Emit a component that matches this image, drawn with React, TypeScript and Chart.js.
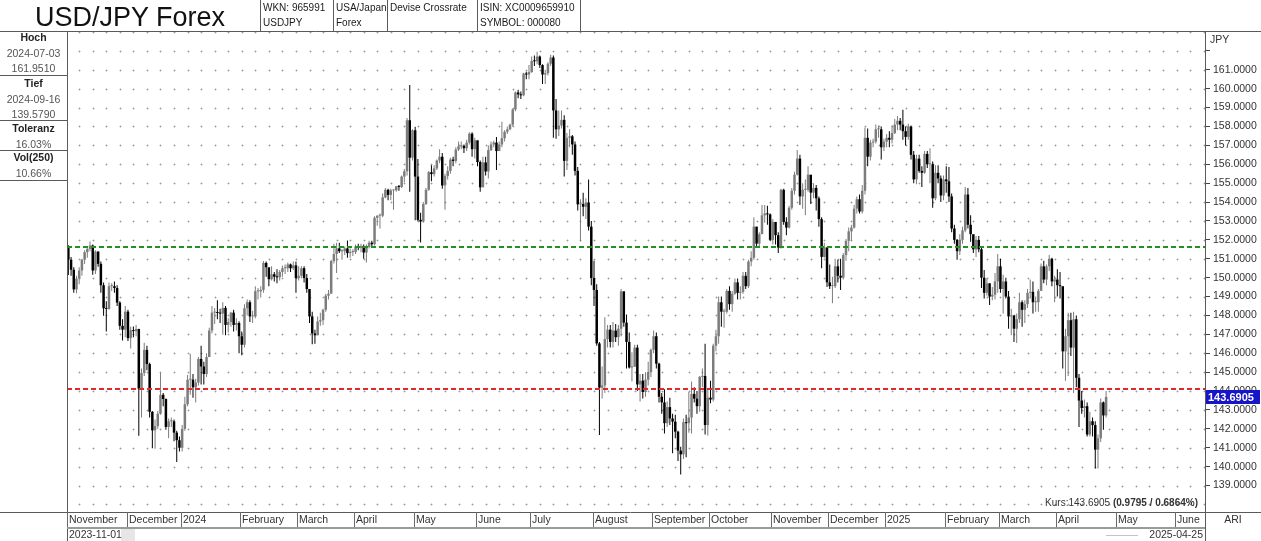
import React, { useEffect, useRef } from "react";
import { Chart, registerables } from "chart.js";

Chart.register(...registerables);

// ---------------- data ----------------
const TITLE = "USD/JPY Forex";
const START_DATE = "2023-11-01";
const SLOT_COUNT = 420; // trading-day slots on the time axis (data + empty future space)
const HOLIDAYS = ["12-25", "01-01"];
const FIRST_OPEN = 151.68;

// daily closes, Nov 2023 .. Apr 2025
const closes = [
  // Nov 2023
  150.95,150.42,149.38,149.95,150.38,150.95,151.35,151.52,151.70,150.38,151.38,150.73,149.60,148.38,148.35,149.55,149.55,149.45,148.68,147.45,147.25,148.20,
  // Dec 2023
  146.80,147.22,147.17,147.28,144.13,144.95,146.18,145.43,142.90,141.92,142.15,142.80,143.80,143.58,142.10,142.40,142.40,141.80,141.40,141.00,
  // Jan 2024
  142.00,143.30,144.60,144.60,144.20,144.45,145.70,145.30,144.90,145.80,147.20,148.15,148.15,148.13,148.10,148.40,147.50,147.65,148.15,147.50,147.60,146.90,
  // Feb 2024
  146.45,148.38,148.70,147.95,147.95,149.28,149.28,149.35,150.78,150.55,149.92,150.18,150.05,150.02,150.30,150.50,150.50,150.70,150.50,150.65,149.98,
  // Mar 2024
  150.10,150.50,149.98,149.40,147.95,147.05,146.95,147.68,147.75,148.30,149.05,149.15,150.88,151.25,151.55,151.40,151.40,151.55,151.30,151.35,151.35,
  // Apr 2024
  151.65,151.57,151.68,151.33,151.62,151.85,151.77,153.17,153.28,153.28,154.25,154.65,154.38,154.62,154.63,154.83,154.80,155.35,155.63,158.33,156.35,157.80,
  // May 2024
  155.35,153.06,152.97,153.90,154.65,155.58,155.48,155.78,156.20,156.40,154.88,155.38,155.65,156.25,156.18,156.78,156.95,156.98,156.85,157.15,157.62,156.80,157.27,
  // Jun 2024
  156.12,154.78,156.10,155.62,156.75,157.05,157.15,156.70,157.05,157.38,157.72,157.85,158.10,158.90,159.80,159.70,159.65,160.80,160.75,160.88,
  // Jul 2024
  161.47,161.45,161.70,161.25,160.75,160.82,161.32,161.65,158.85,157.85,158.05,158.35,156.18,157.40,157.48,157.05,155.65,153.88,153.90,153.75,153.98,152.70,149.98,
  // Aug 2024
  149.35,146.52,144.18,144.30,146.75,147.25,146.60,147.20,146.85,147.30,149.28,147.62,146.60,145.25,145.28,146.30,144.35,144.55,143.95,144.60,145.00,146.18,
  // Sep 2024
  146.90,145.45,143.70,143.40,142.30,143.15,142.55,142.38,141.85,140.85,140.65,142.35,142.30,142.60,143.85,143.60,143.20,144.75,144.80,142.20,143.65,
  // Oct 2024
  143.55,146.40,146.90,148.70,148.20,148.20,149.30,148.60,149.15,149.75,149.20,149.25,150.10,149.55,150.85,151.05,152.70,151.80,152.30,153.30,153.40,153.35,152.00,
  // Nov 2024
  152.95,152.25,151.60,154.65,152.95,152.65,153.70,154.60,155.45,156.30,154.30,154.65,154.65,155.45,154.50,154.75,154.20,153.10,151.10,151.60,149.75,
  // Dec 2024
  149.55,149.55,150.60,150.10,150.00,151.20,151.95,152.45,152.65,153.65,154.15,153.50,154.60,157.40,156.40,157.15,157.20,157.85,157.85,156.90,157.20,
  // Jan 2025
  157.40,157.30,157.65,158.10,158.30,158.10,157.75,157.45,158.00,156.50,155.20,156.30,155.65,155.55,156.55,156.00,156.00,154.20,155.55,155.25,154.35,155.20,
  // Feb 2025
  155.10,154.30,152.60,152.00,151.40,152.00,152.50,154.40,152.80,152.30,151.50,152.00,151.50,150.00,149.20,149.70,149.00,149.10,149.80,150.60,
  // Mar 2025
  149.40,149.80,149.00,147.95,148.00,147.30,147.80,148.70,148.30,148.60,149.20,149.25,148.70,148.70,149.30,150.60,149.90,150.60,151.00,149.80,149.90,
  // Apr 2025
  149.60,149.55,146.10,146.90,147.75,146.30,147.80,144.70,143.50,143.10,143.20,141.70,142.40,142.20,140.90,141.50,143.40,142.71,143.69,
];

const highs = [
  151.72,151.10,150.55,150.10,150.55,151.00,151.45,151.60,151.91,151.75,151.45,151.40,150.85,149.75,148.75,149.75,149.70,149.80,149.60,148.75,147.80,148.50,
  148.30,147.40,147.42,147.50,147.30,145.20,146.55,146.40,145.50,142.95,142.50,142.95,144.95,143.90,143.60,142.55,142.60,142.50,141.90,141.60,
  142.20,143.70,144.85,145.98,144.90,144.65,145.80,146.40,145.55,146.00,147.35,148.50,148.40,148.80,148.35,148.70,148.50,147.85,148.20,148.30,147.85,147.70,
  147.15,148.60,148.85,148.80,148.25,149.55,149.45,149.55,150.88,150.85,150.50,150.60,150.30,150.45,150.40,150.65,150.70,150.80,150.75,150.85,150.85,
  150.60,150.60,150.60,150.20,149.40,148.20,147.25,147.95,148.15,148.35,149.15,149.35,150.95,151.80,151.85,151.85,151.50,151.65,151.97,151.55,151.50,
  151.75,151.80,151.80,151.75,151.75,151.95,151.95,153.25,153.30,153.40,154.45,154.75,154.70,154.70,154.65,154.85,154.90,155.40,155.75,158.45,160.20,157.85,
  157.99,156.28,153.43,154.00,154.75,155.65,155.95,155.95,156.25,156.80,156.60,155.50,155.90,156.35,156.40,156.90,157.20,157.20,157.05,157.30,157.70,157.70,157.40,
  157.25,156.20,156.40,156.40,157.00,157.20,157.25,157.45,157.20,158.25,157.80,158.00,158.15,158.95,159.85,159.95,159.85,160.85,160.90,161.25,
  161.70,161.75,161.95,161.75,161.30,161.00,161.40,161.80,161.75,159.45,158.85,158.85,158.60,157.65,157.85,157.55,157.20,155.85,154.15,154.50,154.20,155.20,153.00,
  150.90,149.65,146.60,145.30,147.90,147.50,147.50,147.65,147.55,147.50,149.40,149.15,148.05,147.10,146.05,146.45,146.45,144.90,144.90,145.00,145.55,146.25,
  147.20,147.10,145.50,143.90,144.10,143.45,143.65,142.80,142.75,141.90,141.05,142.55,142.75,143.95,144.50,144.20,144.00,144.80,145.20,146.50,144.15,
  144.55,146.50,147.25,149.00,149.00,148.35,149.40,149.55,149.30,149.95,149.95,149.55,150.30,150.30,150.95,151.40,153.20,152.70,152.40,153.85,153.85,153.80,153.40,
  153.10,152.70,152.40,154.70,154.70,153.20,153.80,154.75,155.60,156.75,156.50,155.00,155.20,155.90,155.35,155.00,154.90,154.30,153.20,151.85,151.60,
  150.70,150.05,151.00,150.95,151.00,151.30,152.05,152.65,152.80,153.85,154.30,154.40,154.90,157.95,157.90,157.30,157.35,158.10,158.05,158.00,157.35,
  157.60,157.75,158.05,158.40,158.55,158.45,158.88,158.00,158.15,158.05,156.70,156.50,156.50,155.90,156.70,156.70,156.85,156.15,155.95,155.95,155.40,155.40,
  155.90,155.85,154.45,152.80,152.05,152.30,152.70,154.80,154.75,153.30,152.15,152.20,152.20,151.60,150.40,149.95,149.70,149.50,150.25,151.25,
  151.00,150.15,150.00,149.30,148.35,148.00,148.10,149.20,148.80,148.80,149.40,149.90,149.80,149.00,149.40,150.75,150.90,150.70,151.20,151.05,150.10,
  150.45,150.30,149.30,147.30,148.15,148.15,148.20,148.00,144.90,144.00,143.55,143.40,142.90,142.60,142.40,141.70,143.60,143.45,144.00,
];

const lows = [
  150.14,150.10,149.20,149.18,149.65,150.10,150.72,151.05,151.40,150.16,150.20,150.58,149.20,147.98,147.15,148.30,149.30,149.20,148.50,147.25,146.68,146.85,
  146.65,146.25,146.85,146.90,141.63,142.60,144.80,145.10,142.60,140.97,140.95,142.00,142.75,143.20,141.95,141.50,142.10,141.35,140.25,140.80,
  140.80,141.90,143.20,143.80,143.65,143.40,144.30,144.35,144.35,144.75,145.80,147.05,147.55,147.80,147.60,146.98,146.95,147.10,147.40,147.15,147.20,146.00,
  145.90,146.30,148.00,147.65,147.60,147.85,148.85,148.95,149.20,150.05,149.55,149.85,149.80,149.70,149.85,150.05,150.20,150.30,150.30,150.40,149.20,
  149.85,149.95,149.75,149.20,147.60,146.48,146.50,146.95,147.45,147.50,148.20,148.85,149.20,150.75,150.25,151.30,150.95,151.20,151.05,151.05,151.15,
  151.25,151.45,151.35,151.00,150.80,151.55,151.60,151.70,152.75,152.60,153.20,154.20,154.10,154.10,153.60,154.55,154.60,154.75,155.05,155.40,154.54,156.20,
  153.04,152.99,151.86,152.90,153.85,154.60,155.10,155.35,155.70,156.05,154.70,153.60,155.20,155.50,155.90,156.05,156.70,156.80,156.60,156.70,157.05,156.40,156.30,
  155.90,154.55,154.80,155.40,155.25,156.70,156.90,155.70,156.80,156.90,157.20,157.60,157.80,158.00,158.80,159.50,159.45,159.60,160.50,160.50,
  160.85,161.20,161.30,161.10,160.25,160.25,160.70,161.20,157.40,157.35,157.50,157.90,155.35,155.70,156.90,156.50,155.40,153.55,151.93,153.25,153.10,152.50,149.60,
  148.50,146.40,141.68,143.60,143.90,146.30,146.30,146.30,146.60,146.40,146.90,147.40,145.20,145.20,144.50,145.30,144.00,143.45,143.60,143.70,144.30,144.75,
  146.00,145.20,143.40,142.80,141.75,142.10,142.20,140.71,141.50,140.30,139.58,140.40,140.50,141.80,141.75,143.40,142.80,142.90,144.20,141.70,141.65,
  143.35,143.45,146.10,146.50,147.40,147.35,148.10,148.30,148.20,149.10,148.85,148.85,149.15,149.40,149.45,150.60,150.95,151.65,151.60,152.50,152.90,152.80,151.95,
  151.75,151.75,151.30,151.55,152.80,152.25,152.60,153.60,154.40,155.40,153.85,153.65,153.30,154.55,153.90,154.20,153.55,152.70,150.50,151.05,149.50,
  149.40,148.65,149.45,149.75,149.35,149.90,150.90,151.40,151.95,152.60,153.40,153.40,153.40,154.40,155.90,156.20,156.90,157.10,157.40,156.25,156.70,
  156.90,156.90,157.10,157.60,157.80,157.80,157.30,157.00,157.30,156.25,155.00,154.95,155.55,154.80,155.50,155.80,155.00,153.70,154.10,155.00,154.00,154.10,
  154.50,154.00,152.40,151.80,150.95,151.20,151.80,152.40,152.60,151.90,151.30,151.10,151.35,149.45,148.90,149.05,148.55,148.80,148.85,149.20,
  149.20,148.10,148.90,147.30,146.95,146.60,146.54,147.60,147.40,147.60,148.40,148.90,148.10,148.20,148.20,149.45,149.70,149.60,150.35,149.55,148.70,
  149.00,148.90,145.20,144.55,144.80,145.85,143.90,144.20,142.10,142.80,142.60,141.60,141.60,141.60,139.90,139.90,141.30,141.95,142.60,
];

const monthLabels = [
  "November", "December", "2024", "February", "March", "April", "May", "June", "July", "August",
  "September", "October", "November", "December", "2025", "February", "March", "April", "May", "June",
];

const Y_MIN = 137.6;
const Y_MAX = 163.0;
const LABEL_MIN = 139;
const LABEL_MAX = 161;
const TICKMARK_MAX = 162;
const RESISTANCE = 151.6;
const SUPPORT = 144.1;
const LAST_PRICE = "143.6905";
const KURS_TEXT = "Kurs:143.6905 ";
const KURS_CHANGE = "(0.9795 / 0.6864%)";
const FIRST_DATE_LABEL = "2023-11-01";
const LAST_DATE_LABEL = "2025-04-25";
const AXIS_UNIT = "JPY";
const CORNER_LABEL = "ARI";

const infoCells = [
  { x: 263, lines: ["WKN: 965991", "USDJPY"] },
  { x: 336, lines: ["USA/Japan", "Forex"] },
  { x: 390, lines: ["Devise Crossrate"] },
  { x: 480, lines: ["ISIN: XC0009659910", "SYMBOL: 000080"] },
];
const headerSeparators = [260, 333, 387, 477, 580];

const panelStats = [
  { top: 30, head: "Hoch", lines: ["2024-07-03", "161.9510"] },
  { top: 76, head: "Tief", lines: ["2024-09-16", "139.5790"] },
  { top: 121, head: "Toleranz", lines: ["16.03%"] },
  { top: 150, head: "Vol(250)", lines: ["10.66%"] },
];
const panelSeparators = [75, 120, 150, 180];

// ---------------- helpers ----------------
const FONT = "'Liberation Sans', Arial, Helvetica, sans-serif";

function buildTradingDays(start: string, count: number, skip: string[]) {
  const out: string[] = [];
  const d = new Date(start + "T00:00:00Z");
  while (out.length < count) {
    const wd = d.getUTCDay();
    const iso = d.toISOString().slice(0, 10);
    if (wd !== 0 && wd !== 6 && !skip.includes(iso.slice(5))) out.push(iso);
    d.setUTCDate(d.getUTCDate() + 1);
  }
  return out;
}

const tradingDays = buildTradingDays(START_DATE, SLOT_COUNT, HOLIDAYS);
const monthStarts: number[] = [];
tradingDays.forEach((d, i) => {
  if (i === 0 || d.slice(0, 7) !== tradingDays[i - 1].slice(0, 7)) monthStarts.push(i);
});

const opens = closes.map((c, i) => (i === 0 ? FIRST_OPEN : closes[i - 1]));
const barColors = closes.map((c, i) => (c >= opens[i] ? "#7c7c7c" : "#000000"));

function line(ctx: CanvasRenderingContext2D, x1: number, y1: number, x2: number, y2: number) {
  ctx.beginPath();
  ctx.moveTo(x1, y1);
  ctx.lineTo(x2, y2);
  ctx.stroke();
}

const framePlugin = {
  id: "frame",
  beforeDatasetsDraw(chart: any) {
    const { ctx, scales } = chart;
    const xs = scales.x;
    const ys = scales.y;
    ctx.save();
    for (let i = 4; i < SLOT_COUNT; i += 5) {
      const px = Math.round(xs.getPixelForValue(i));
      for (let v = Math.ceil(Y_MIN); v <= Math.floor(Y_MAX); v++) {
        const py = Math.round(ys.getPixelForValue(v));
        ctx.fillStyle = "#d6d6d6";
        ctx.fillRect(px - 1, py, 3, 1);
        ctx.fillRect(px, py - 1, 1, 3);
        ctx.fillStyle = "#9a9a9a";
        ctx.fillRect(px, py, 1, 1);
      }
    }
    ctx.restore();
  },
  afterDatasetsDraw(chart: any) {
    const { ctx, chartArea: a, scales } = chart;
    const ys = scales.y;
    ctx.save();
    ctx.lineWidth = 2;
    ctx.setLineDash([5, 3]);
    ctx.strokeStyle = "#1f931f";
    const yg = Math.round(ys.getPixelForValue(RESISTANCE));
    line(ctx, a.left, yg, a.right, yg);
    ctx.strokeStyle = "#e02a2a";
    const yr = Math.round(ys.getPixelForValue(SUPPORT));
    line(ctx, a.left, yr, a.right, yr);
    ctx.restore();
  },
  afterDraw(chart: any) {
    const { ctx, chartArea: a, scales, width, height } = chart;
    const xs = scales.x;
    const ys = scales.y;
    const slot = xs.getPixelForValue(1) - xs.getPixelForValue(0);
    ctx.save();
    ctx.setLineDash([]);
    ctx.lineWidth = 1;
    ctx.strokeStyle = "#5a5a5a";
    // main frame
    line(ctx, 0, 31.5, width, 31.5);
    line(ctx, a.left + 0.5, 31, a.left + 0.5, height);
    line(ctx, a.right + 0.5, 31, a.right + 0.5, height);
    line(ctx, 0, a.bottom + 0.5, width, a.bottom + 0.5);
    // header separators
    headerSeparators.forEach((x) => line(ctx, x + 0.5, 0, x + 0.5, 31));
    // left panel separators
    panelSeparators.forEach((y) => line(ctx, 0, y + 0.5, a.left, y + 0.5));
    // month row underline
    ctx.strokeStyle = "#9a9a9a";
    ctx.lineWidth = 2;
    line(ctx, a.left, a.bottom + 16, a.right, a.bottom + 16);
    // month separators + labels
    ctx.lineWidth = 1;
    ctx.strokeStyle = "#6a6a6a";
    ctx.fillStyle = "#333";
    ctx.font = `10.5px ${FONT}`;
    ctx.textBaseline = "middle";
    ctx.textAlign = "left";
    monthStarts.forEach((idx, k) => {
      const x = Math.round(xs.getPixelForValue(idx) - slot / 2);
      if (x > a.right - 5) return;
      line(ctx, x + 0.5, a.bottom, x + 0.5, a.bottom + 15);
      if (monthLabels[k]) ctx.fillText(monthLabels[k], x + 2, a.bottom + 8.5);
    });
    // date row
    ctx.fillStyle = "#e6e6e6";
    ctx.fillRect(a.left + 54, a.bottom + 17, 14, 12);
    ctx.fillStyle = "#333";
    ctx.fillText(FIRST_DATE_LABEL, a.left + 2, a.bottom + 23);
    ctx.strokeStyle = "#c4c4c4";
    line(ctx, 1106, a.bottom + 23.5, 1138, a.bottom + 23.5);
    ctx.textAlign = "right";
    ctx.fillText(LAST_DATE_LABEL, a.right - 2, a.bottom + 23);
    // corner
    ctx.textAlign = "center";
    ctx.fillText(CORNER_LABEL, (a.right + width) / 2, a.bottom + 8.5);
    // unit label
    ctx.textAlign = "left";
    ctx.fillText(AXIS_UNIT, a.right + 5, 40);
    // kurs text
    ctx.font = `bold 10px ${FONT}`;
    const bw = ctx.measureText(KURS_CHANGE).width;
    ctx.textAlign = "right";
    ctx.fillText(KURS_CHANGE, a.right - 7, a.bottom - 9);
    ctx.font = `10px ${FONT}`;
    ctx.fillText(KURS_TEXT, a.right - 7 - bw, a.bottom - 9);
    // last price box
    const py = ys.getPixelForValue(Number(LAST_PRICE));
    ctx.fillStyle = "#1616c8";
    ctx.fillRect(a.right + 1, Math.round(py) - 7, width - a.right - 2, 14);
    ctx.fillStyle = "#ffffff";
    ctx.font = `bold 11px ${FONT}`;
    ctx.textAlign = "left";
    ctx.fillText(LAST_PRICE, a.right + 3, Math.round(py) + 0.5);
    ctx.restore();
  },
};

export default function App() {
  const ref = useRef<HTMLCanvasElement | null>(null);

  useEffect(() => {
    const canvas = ref.current;
    if (!canvas) return;
    const chart = new Chart(canvas, {
      type: "bar",
      data: {
        labels: tradingDays,
        datasets: [
          {
            label: "body",
            data: opens.map((o, i) => [o, closes[i]]) as any,
            backgroundColor: barColors,
            borderWidth: 0,
            barThickness: 2.5,
            minBarLength: 1,
            grouped: false,
            inflateAmount: 0,
          } as any,
          {
            label: "range",
            data: lows.map((l, i) => [l, highs[i]]) as any,
            backgroundColor: barColors,
            borderWidth: 0,
            barThickness: 1,
            grouped: false,
            inflateAmount: 0,
          } as any,
        ],
      },
      options: {
        animation: false,
        responsive: false,
        maintainAspectRatio: false,
        events: [],
        layout: { padding: { left: 67, top: 32, right: 0, bottom: 29 } },
        plugins: { legend: { display: false }, tooltip: { enabled: false } },
        scales: {
          x: { type: "category", display: false, offset: true, grid: { display: false } },
          y: {
            position: "right",
            min: Y_MIN,
            max: Y_MAX,
            afterFit: (s: any) => {
              s.width = 56;
            },
            border: { display: false },
            grid: {
              drawOnChartArea: false,
              drawTicks: true,
              tickLength: 5,
              color: (c: any) => {
                const v = c.tick ? c.tick.value : NaN;
                return Number.isInteger(v) && v >= LABEL_MIN && v <= TICKMARK_MAX ? "#444" : "rgba(0,0,0,0)";
              },
            },
            ticks: {
              stepSize: 1,
              autoSkip: false,
              padding: 3,
              color: "#333",
              font: { family: FONT, size: 10.5 },
              callback: (v: any) =>
                Number.isInteger(v) && v >= LABEL_MIN && v <= LABEL_MAX ? Number(v).toFixed(4) : "",
            },
          },
        },
      } as any,
      plugins: [framePlugin],
    });
    return () => chart.destroy();
  }, []);

  const base: React.CSSProperties = { position: "absolute", fontFamily: FONT, whiteSpace: "nowrap" };

  return (
    <div style={{ position: "fixed", left: 0, top: 0, width: 1261, height: 541, background: "#fff", overflow: "hidden" }}>
      <canvas ref={ref} width={1261} height={541} style={{ position: "absolute", left: 0, top: 0, width: 1261, height: 541 }} />
      <div style={{ ...base, left: 35, top: 2, fontSize: 27, lineHeight: "30px", color: "#111" }}>{TITLE}</div>
      {infoCells.map((c, i) => (
        <div key={i} style={{ ...base, left: c.x, top: 0, fontSize: 10, lineHeight: "15px", color: "#1a1a1a" }}>
          {c.lines.map((t, j) => (
            <div key={j}>{t}</div>
          ))}
        </div>
      ))}
      {panelStats.map((p, i) => (
        <div key={i} style={{ ...base, left: 0, width: 67, top: p.top, textAlign: "center", fontSize: 10.5, lineHeight: "15.5px" }}>
          <div style={{ fontWeight: "bold", color: "#222" }}>{p.head}</div>
          {p.lines.map((t, j) => (
            <div key={j} style={{ color: "#555" }}>{t}</div>
          ))}
        </div>
      ))}
    </div>
  );
}
